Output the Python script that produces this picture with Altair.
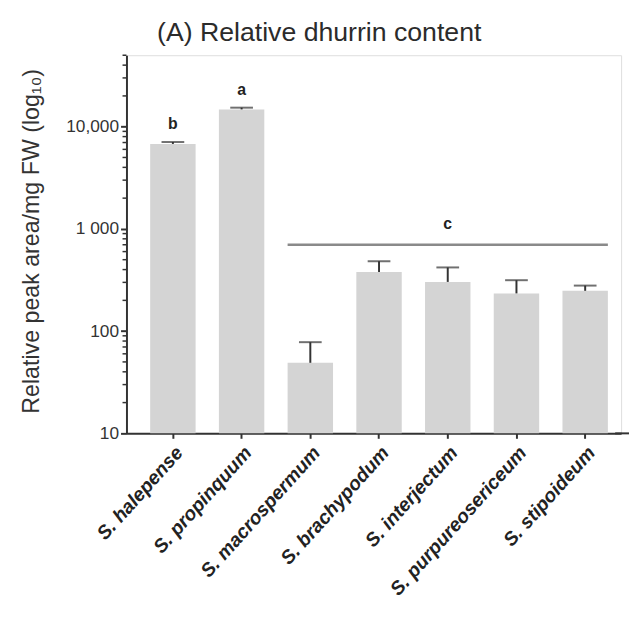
import altair as alt
import pandas as pd

# ---- data ----
species = ["S. halepense", "S. propinquum", "S. macrospermum", "S. brachypodum",
           "S. interjectum", "S. purpureosericeum", "S. stipoideum"]
mean_vals = [6780, 14760, 49, 379, 303, 234, 248]
upper_vals = [7080, 15350, 78, 483, 420, 315, 279]
sig_letters = ["b", "a", "", "", "", "", ""]

group_start = "S. macrospermum"
group_end = "S. stipoideum"
group_mid = "S. interjectum"
group_letter = "c"
group_level = 700

y_tick_values = [10, 100, 1000, 10000]
y_tick_labels = ["10", "100", "1 000", "10,000"]
y_minor_values = [20, 30, 40, 50, 60, 70, 80, 90,
                  200, 300, 400, 500, 600, 700, 800, 900,
                  2000, 3000, 4000, 5000, 6000, 7000, 8000, 9000,
                  20000, 30000, 40000, 50000]

FONT = "Liberation Sans"
DARK = "#333333"

df = pd.DataFrame({"species": species, "mean": mean_vals,
                   "upper": upper_vals, "letter": sig_letters})
df_letters = df[df["letter"] != ""]
df_group = pd.DataFrame({"start": [group_start], "end": [group_end],
                         "mid": [group_mid], "level": [group_level],
                         "letter": [group_letter]})
df_minor = pd.DataFrame({"v": y_minor_values})
df_base = pd.DataFrame({"v": [10]})

label_expr = " : ".join(
    [f"datum.value == {v} ? '{l}'" for v, l in zip(y_tick_values, y_tick_labels)]
) + " : datum.label"

x_scale = alt.Scale(domain=species, paddingInner=0.339, paddingOuter=0.2687, align=0.642)
y_scale = alt.Scale(type="log", domain=[10, 50000], nice=False)

x_axis = alt.Axis(title="", labelAngle=-48, labelAlign="right", labelBaseline="top",
                  labelFont=FONT, labelFontSize=19.5, labelFontStyle="italic",
                  labelFontWeight="bold", labelColor="#222", labelLimit=400,
                  labelPadding=5, tickSize=5, tickWidth=2, tickColor=DARK,
                  domainColor=DARK, domainWidth=2, grid=False)
y_axis = alt.Axis(values=y_tick_values, labelExpr=label_expr,
                  title="Relative peak area/mg FW (log₁₀)",
                  titleFont=FONT, titleFontSize=23.5, titleFontWeight="normal",
                  titleColor=DARK, titlePadding=23, titleY=188,
                  labelFont=FONT, labelFontSize=17.5, labelColor=DARK, labelPadding=2,
                  tickSize=6, tickWidth=2, tickColor=DARK,
                  domainColor=DARK, domainWidth=2, grid=False)

def X(field, **kw):
    return alt.X(field, scale=x_scale, sort=species, axis=x_axis, **kw)

def Y(field):
    return alt.Y(field, scale=y_scale, axis=y_axis)

bars = alt.Chart(df).mark_bar(color="#d4d4d4").encode(
    x=X("species:N"), y=Y("mean:Q"), y2=alt.datum(10),
)

stems = alt.Chart(df).mark_rule(color=DARK, strokeWidth=2).encode(
    x=X("species:N"), y=Y("mean:Q"), y2="upper:Q",
)

caps = alt.Chart(df).mark_tick(color=DARK, size=23, thickness=2).encode(
    x=X("species:N"), y=Y("upper:Q"),
)

letters = alt.Chart(df_letters).mark_text(
    font=FONT, fontSize=16, fontWeight="bold", color="#222", baseline="alphabetic", dy=-13
).encode(x=X("species:N"), y=Y("upper:Q"), text="letter:N")

group_line = alt.Chart(df_group).mark_rule(color="#8a8a8a", strokeWidth=2.5).encode(
    x=X("start:N", bandPosition=0),
    x2=alt.X2("end:N", bandPosition=1),
    y=Y("level:Q"),
)

group_text = alt.Chart(df_group).mark_text(
    font=FONT, fontSize=16, fontWeight="bold", color="#222", baseline="alphabetic", dy=-16
).encode(x=X("mid:N"), y=Y("level:Q"), text="letter:N")

minor = alt.Chart(df_minor).mark_rule(color=DARK, strokeWidth=1.5).encode(
    x=alt.value(-4), x2=alt.value(0), y=Y("v:Q"),
)

# x-axis line running on to the right edge of the page, as in the reference
axis_ext = alt.Chart(df_base).mark_rule(color=DARK, strokeWidth=2).encode(
    x=alt.value(495), x2=alt.value(509), y=Y("v:Q"),
)

chart = alt.layer(bars, stems, caps, letters, group_line, group_text, minor, axis_ext).properties(
    width=501, height=383,
    title=alt.TitleParams("(A) Relative dhurrin content", anchor="start", frame="group",
                          dx=31, fontSize=27, font=FONT, fontWeight="normal",
                          color="#2b2b2b", offset=8),
    autosize=alt.AutoSizeParams(type="none"),
    padding={"left": 120, "top": 44, "right": 8, "bottom": 170},
).configure_view(strokeWidth=0, stroke="transparent").configure(background="white")

chart.save("out.html", embed_options={"renderer": "svg", "actions": False})
